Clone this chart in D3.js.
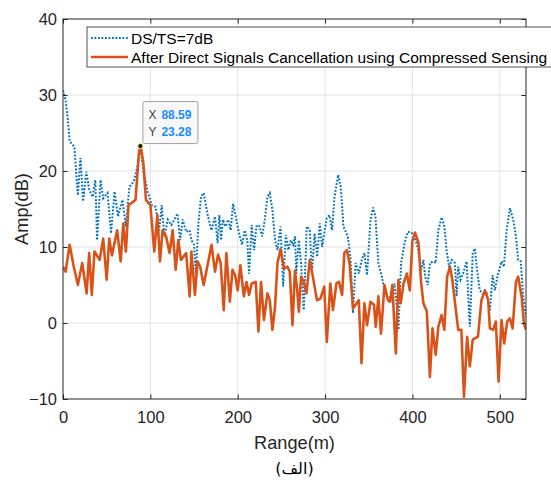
<!DOCTYPE html>
<html>
<head>
<meta charset="utf-8">
<script src="https://cdn.jsdelivr.net/npm/d3@7"></script>
<style>
  body { margin: 0; background: #fff; }
  svg { display: block; }
</style>
</head>
<body>
<div id="chart"></div>
<script>
// legend names
const seriesNames = ["DS/TS=7dB", "After Direct Signals Cancellation using Compressed Sensing"];

// blue dotted series (before cancellation)
const blueRange = [0, 3, 5.6, 7.6, 13, 17, 20, 23, 26.7, 30, 34, 37, 39, 43, 46, 51, 55, 59, 63, 68, 72, 76, 81, 85, 88.6, 92,
  97, 101.5, 106, 110, 113, 116, 120, 124, 127.5, 131, 134, 137, 141, 145, 147, 150, 152, 155, 158, 161, 166, 170, 174, 177,
  179, 181, 183, 186, 189, 192, 194.6, 197.7, 201.5, 205, 208, 211, 213, 216, 218.7, 221.4, 224.4, 228, 231, 234, 236.7,
  239.7, 242.7, 245.5, 249, 252, 255, 258, 260.7, 263.4, 265.6, 267, 270, 272.5, 275.6, 279, 282.5, 285, 288, 291, 294,
  296.6, 299, 302, 305, 308, 310.8, 315, 318, 321, 326, 329, 332, 335, 338.6, 342, 345, 348, 352, 355, 357.7, 359, 361, 365,
  368.7, 372.6, 375.6, 379.5, 382, 384, 387, 391, 394.7, 399, 402, 406, 410, 412.6, 414.5, 417.5, 420, 424, 426.6, 429.6,
  433.4, 436.5, 439, 442, 445, 448.5, 450.5, 452.4, 455, 458, 462, 465.7, 469, 471.5, 474, 477, 481, 485, 488.7, 491.8,
  494.4, 498, 502, 504.7, 507.8, 511.6, 515.4, 518.5, 521, 524, 526.8, 530];
const blueAmp = [30.6, 29.3, 26.7, 23.9, 23.2, 16.8, 21.7, 16, 19.9, 17.5, 16.6, 18.8, 10.9, 18.8, 16.4, 17.1, 11.8, 17.3, 14,
  16.2, 12.7, 17.9, 18.6, 20.5, 23, 20,
  17.3, 15.5, 15.3, 12.2, 15.5, 11.4, 13.6, 12.9, 13.6, 14.4, 10.9, 13.6, 12, 12.2, 10.9, 10.3, 6.5, 13.1, 16.6, 17.1, 14,
  12.2, 14, 10.5, 14.2, 10.9, 13.6, 12.7, 13.6, 12.2, 15.7, 14, 11.8, 10.3, 12.2, 10.9, 6.5, 12.9, 9.6, 12.7, 12.9, 11.4,
  13.6, 16.6, 17.1, 14.9, 10.9, 9.6, 12.7, 4.8, 11.6, 9.6, 10.9, 10.3, 11.4, 6.5, 10.9, 7.9, 1.7, 12.7, 12.2, 6.5, 11.8,
  8.7, 13.1, 10, 11.8, 13.8, 14.2, 12.2, 16.6, 19.5, 17.9, 12.7, 11.4, 8.7, 1.3, 7.9, 6.5, 8.3, 9.2, 6.3, 13.6, 15.2, 14,
  11.4, 7.9, 6.1, 3.9, 3, 3.9, 5.2, 2.1, -0.9, 7.9, 10.5, 12, 11.9, 11.4, 10, 7, 8.3, 6.1, 5, 7.9, 8.1, 7.9, 12.2, 13.9,
  12.7, 9.6, 7.4, 8.3, 7.9, 3.5, 7.4, 5.7, 6.5, 8.1, -0.5, 9.2, 9.8, 7, 4.3, 3.9, 3.9, 1.7, 6.3, 4.3, 6.5, 8.1, 7.4, 12.2,
  15.1, 13.6, 11.4, 8.3, 8.1, 3.5, 0.8];

// orange series (after cancellation)
const orangeRange = [0, 3, 7.6, 12, 17, 22, 27, 30, 33, 36, 42, 46, 50, 53, 56, 62, 66, 69, 72, 75, 83, 87, 88.59, 89.7, 92,
  95, 100, 104.5, 108, 111, 114, 118, 122, 125.5, 129, 132, 135, 141, 145, 147, 151, 154, 157, 161, 166, 170, 174, 177.5,
  180.5, 184, 187, 191, 194, 197, 200, 203, 207, 210, 213, 216, 220.6, 223.7, 226.7, 230, 234, 236.7, 239.7, 242.7, 245.5,
  249, 253, 257, 259.6, 262.7, 265.5, 268, 270, 272.5, 275.6, 278.7, 282.5, 286, 290.8, 294.7, 299, 302, 306, 309, 313,
  316, 319.5, 322, 325, 328, 332, 336, 338.6, 341.7, 345, 348, 352, 356, 358, 361, 364, 368, 372, 374.5, 377, 381, 384,
  386.6, 389.8, 393.6, 397, 400, 403, 407, 410, 412.6, 416.5, 420, 423, 426.6, 429.6, 433.4, 436.5, 439.7, 443, 445.6,
  449.7, 452.4, 456, 459, 462.6, 465.7, 469, 475, 479, 483, 486.7, 488.7, 492.4, 495.5, 498.6, 502, 505, 508.5, 511.6,
  514.7, 518.5, 521, 525, 527.6, 530];
const orangeAmp = [7.4, 6.75, 10.3, 7.6, 5, 7.9, 3.9, 9.2, 3.7, 9.4, 8.3, 11.1, 5.7, 11.1, 8.9, 12.2, 8.1, 13.1, 9.4, 15.5,
  16.2, 22.5, 23.28, 22.8, 21,
  16.2, 15.5, 9.4, 14.2, 8.1, 12.2, 11.4, 9.2, 12.2, 7, 10.9, 8.3, 9.2, 3.5, 9.4, 3.7, 8.1, 7.4, 5, 7.9, 10.3, 6.75, 9,
  7.9, 1.7, 9.2, 2.8, 7, 6.3, 4.3, 7.6, 3.5, 5.4, 3.7, 5.2, 5.4, -1.1, 5.4, 0.4, 3.9, 3, -0.9, 2.1, 7.9,
  9.7, 7.2, 7.4, 6.75, -0.3, 6.9, 4.5, 1.5, 6.1, 5.4, 3.9, 8.3, 6.1, 3, 3.2, 4.8, -2.5, 5.2, 1.7, 5.2,
  5.4, 3.7, 9.2, 9.6, 7.9, 1.9, 2.6, 3, -5.3, 2.6, -0.3, 2.8, 2.4, -0.5, 3.5, -1.4, 5, 3, 2.8, 5, -4, 5.7,
  2.6, 5.2, 6.5, 4.3, 10.9, 11.9, 10.5, 5.2, 2.6, 1.5, -7.1, -0.7, -4.2, -0.5, 1.05, -0.9, 6.1, 7.4, 5.7,
  1.7, -0.9, -0.9, -9.7, -1.8, -5.7, -2.2, -1.8, 3, 4.3, 3, -0.7, -0.9, 0.2, -7.7, 0.4, -2.7, 0.2, 0.6,
  -0.7, 5.4, 6.1, 3.5, 0, -0.9];

const xTicks = [0, 100, 200, 300, 400, 500];
const yTicks = [-10, 0, 10, 20, 30, 40];

const width = 551, height = 482;
const margin = { top: 19, right: 25, bottom: 83, left: 63 };
const ink = '#262626';
const font = '"Liberation Sans", Arial, sans-serif';

const x = d3.scaleLinear().domain([0, 530]).range([margin.left, width - margin.right]);
const y = d3.scaleLinear().domain([-10, 40]).range([height - margin.bottom, margin.top]);

const svg = d3.select('#chart').append('svg')
  .attr('width', width)
  .attr('height', height)
  .style('font-family', font);

// grid
svg.append('g')
  .selectAll('line.gx')
  .data(xTicks.slice(1))
  .join('line')
  .attr('x1', d => x(d)).attr('x2', d => x(d))
  .attr('y1', y(-10)).attr('y2', y(40))
  .attr('stroke', '#e3e3e3').attr('stroke-width', 1);
svg.append('g')
  .selectAll('line.gy')
  .data(yTicks.slice(1, -1))
  .join('line')
  .attr('x1', x(0)).attr('x2', x(530))
  .attr('y1', d => y(d)).attr('y2', d => y(d))
  .attr('stroke', '#e3e3e3').attr('stroke-width', 1);

// lines
svg.append('clipPath').attr('id', 'plotclip')
  .append('rect')
  .attr('x', x(0)).attr('y', y(40))
  .attr('width', x(530) - x(0)).attr('height', y(-10) - y(40));

const line = d3.line().x(d => x(d[0])).y(d => y(d[1]));
const plot = svg.append('g').attr('clip-path', 'url(#plotclip)');

plot.append('path')
  .datum(blueRange.map((r, i) => [r, blueAmp[i]]))
  .attr('d', line)
  .attr('fill', 'none')
  .attr('stroke', '#0072BD')
  .attr('stroke-width', 2)
  .attr('stroke-dasharray', '1.8,1.7');

plot.append('path')
  .datum(orangeRange.map((r, i) => [r, orangeAmp[i]]))
  .attr('d', line)
  .attr('fill', 'none')
  .attr('stroke', '#D95319')
  .attr('stroke-width', 2.6)
  .attr('stroke-linejoin', 'round');

// axes, ticks pointing in (MATLAB style)
const styleAxis = g => {
  g.select('.domain').remove();
  g.selectAll('.tick line').attr('stroke', ink);
  g.selectAll('.tick text').attr('fill', ink).style('font-size', '16.5px').style('font-family', font);
};

svg.append('g')
  .attr('transform', `translate(0,${y(-10)})`)
  .call(d3.axisBottom(x).tickValues(xTicks).tickSizeInner(-4.6).tickSizeOuter(0).tickPadding(12))
  .call(styleAxis);
svg.append('g')
  .attr('transform', `translate(0,${y(40)})`)
  .call(d3.axisTop(x).tickValues(xTicks).tickSizeInner(-4.6).tickSizeOuter(0).tickFormat(''))
  .call(styleAxis);
svg.append('g')
  .attr('transform', `translate(${x(0)},0)`)
  .call(d3.axisLeft(y).tickValues(yTicks).tickSizeInner(-4.6).tickSizeOuter(0).tickPadding(6))
  .call(styleAxis);
svg.append('g')
  .attr('transform', `translate(${x(530)},0)`)
  .call(d3.axisRight(y).tickValues(yTicks).tickSizeInner(-4.6).tickSizeOuter(0).tickFormat(''))
  .call(styleAxis);

svg.append('rect')
  .attr('x', x(0)).attr('y', y(40))
  .attr('width', x(530) - x(0)).attr('height', y(-10) - y(40))
  .attr('fill', 'none').attr('stroke', ink).attr('stroke-width', 1);

// axis labels
svg.append('text')
  .attr('x', (x(0) + x(530)) / 2).attr('y', 449)
  .attr('text-anchor', 'middle')
  .attr('fill', ink).style('font-size', '18.2px')
  .text('Range(m)');
svg.append('text')
  .attr('transform', `translate(28,${(y(-10) + y(40)) / 2}) rotate(-90)`)
  .attr('text-anchor', 'middle')
  .attr('fill', ink).style('font-size', '18.2px')
  .text('Amp(dB)');
svg.append('text')
  .attr('x', (x(0) + x(530)) / 2).attr('y', 474)
  .attr('text-anchor', 'middle')
  .attr('fill', '#000')
  .style('font-family', '"DejaVu Sans", "Noto Sans", sans-serif')
  .style('font-size', '16px')
  .text('(الف)');

// legend
const legend = svg.append('g').attr('transform', 'translate(87,27)');
legend.append('rect')
  .attr('width', 480).attr('height', 40)
  .attr('fill', '#fff').attr('stroke', ink).attr('stroke-width', 0.8);
const legendStyles = [
  { color: '#0072BD', w: 2, dash: '1.8,1.7' },
  { color: '#D95319', w: 2.6, dash: null }
];
seriesNames.forEach((name, i) => {
  const cy = 11 + i * 19;
  legend.append('line')
    .attr('x1', 4).attr('x2', 41).attr('y1', cy).attr('y2', cy)
    .attr('stroke', legendStyles[i].color)
    .attr('stroke-width', legendStyles[i].w)
    .attr('stroke-dasharray', legendStyles[i].dash);
  legend.append('text')
    .attr('x', 44).attr('y', cy).attr('dy', '0.36em')
    .attr('fill', '#000').style('font-size', '15.5px')
    .text(name);
});

// data tip on the orange peak
const peakIdx = d3.maxIndex(orangeAmp);
const px = x(orangeRange[peakIdx]), py = y(orangeAmp[peakIdx]);
const tip = svg.append('g');
tip.append('rect')
  .attr('x', px + 2.5).attr('y', py - 44.5)
  .attr('width', 55).attr('height', 42).attr('rx', 2)
  .attr('fill', '#f9f9fc').attr('stroke', '#a0a0a0').attr('stroke-width', 1);
const fmt = d3.format('.2f');
[['X', orangeRange[peakIdx]], ['Y', orangeAmp[peakIdx]]].forEach(([k, v], i) => {
  const ty = py - 31 + i * 16.5;
  tip.append('text')
    .attr('x', px + 8).attr('y', ty).attr('dy', '0.35em')
    .attr('fill', '#404040').style('font-size', '12px')
    .text(k);
  tip.append('text')
    .attr('x', px + 21).attr('y', ty).attr('dy', '0.35em')
    .attr('fill', '#1a8cff').style('font-size', '12px').style('font-weight', 'bold')
    .text(fmt(v));
});
tip.append('circle')
  .attr('cx', px).attr('cy', py).attr('r', 2.6)
  .attr('fill', '#1a1a1a').attr('stroke', '#ffef80').attr('stroke-width', 1);
</script>
</body>
</html>
